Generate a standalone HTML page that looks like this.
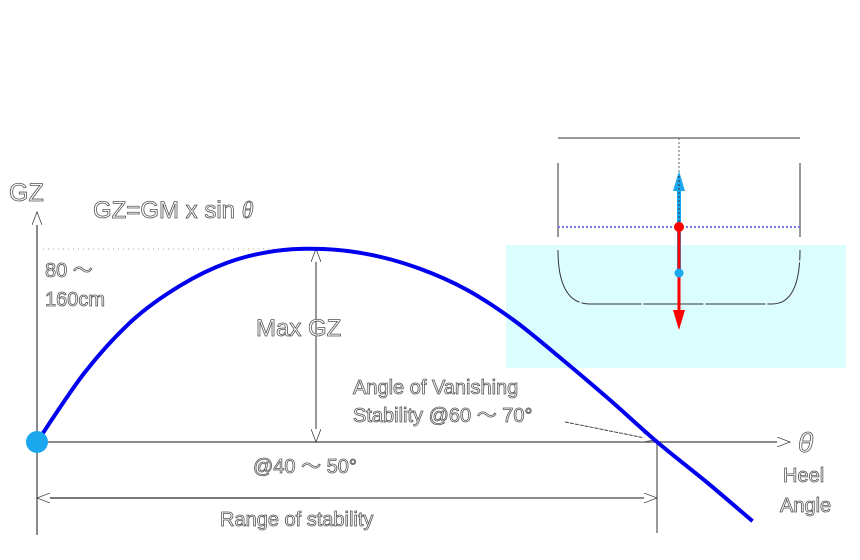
<!DOCTYPE html>
<html><head><meta charset="utf-8"><style>
body{margin:0;background:#fff}
svg{display:block}
.t{font-family:"Liberation Sans",sans-serif;fill:#fff;stroke:#555;stroke-width:0.8}
</style></head><body>
<svg id="chart" width="860" height="560" viewBox="0 0 860 560" xmlns="http://www.w3.org/2000/svg">
<defs>
<marker id="ah" markerWidth="14" markerHeight="10" refX="13" refY="5" orient="auto" markerUnits="userSpaceOnUse"><path d="M0,0 L13,5 L0,10" fill="#fff" stroke="#444" stroke-width="0.8"/></marker>
</defs>
<rect x="506" y="245" width="340" height="123" fill="#dbfdfd"/>
<g stroke="#333" stroke-width="1" fill="none">
<line x1="558" y1="138" x2="800" y2="138"/>
<line x1="558" y1="163" x2="558" y2="237"/>
<line x1="800" y1="163" x2="800" y2="237"/>
<path d="M558,250 Q558,304 590,304 L772,304 Q800,304 800,250" stroke-dasharray="60 2"/>
<line x1="679" y1="138" x2="679" y2="175" stroke="#666" stroke-dasharray="2 2"/>
</g>
<line x1="558" y1="227" x2="800" y2="227" stroke="#7777ee" stroke-width="2" stroke-dasharray="2 2"/>
<line x1="679" y1="273" x2="679" y2="186" stroke="#1aa7ee" stroke-width="4"/>
<polygon points="679,171 673,191 685,191" fill="#1aa7ee"/>
<line x1="679" y1="176" x2="679" y2="225" stroke="#333" stroke-dasharray="2 2"/>
<line x1="679" y1="227" x2="679" y2="315" stroke="#f00" stroke-width="3"/>
<polygon points="679,330 673,310 685,310" fill="#f00"/>
<circle cx="679" cy="227" r="5" fill="#f00"/>
<circle cx="679" cy="273" r="4.5" fill="#1aa7ee"/>

<line x1="37" y1="535" x2="37" y2="212" stroke="#666" stroke-width="1.5" marker-end="url(#ah)"/>
<line x1="37" y1="442" x2="790" y2="442" stroke="#666" stroke-width="1.5" marker-end="url(#ah)"/>
<line x1="43" y1="249" x2="316" y2="249" stroke="#aaa" stroke-dasharray="1 4"/>
<line x1="316" y1="345" x2="316" y2="249" stroke="#777" stroke-width="1.5" marker-end="url(#ah)"/>
<line x1="316" y1="345" x2="316" y2="442" stroke="#777" stroke-width="1.5" marker-end="url(#ah)"/>
<line x1="657" y1="442" x2="657" y2="533" stroke="#333"/>
<line x1="37" y1="498" x2="657" y2="498" stroke="#666" stroke-width="1.5" marker-end="url(#ah)"/>
<line x1="320" y1="498" x2="37" y2="498" stroke="#666" stroke-width="1.5" marker-end="url(#ah)"/>
<line x1="565" y1="422" x2="655" y2="440" stroke="#444" stroke-dasharray="4 1" marker-end="url(#ah)"/>
<g id="curve"></g>
<circle cx="37" cy="442" r="11" fill="#1aa7ee"/>

<text class="t" x="9" y="201" font-size="25">GZ</text>
<text class="t" x="93" y="218" font-size="24">GZ=GM x sin <tspan font-family="Liberation Serif" font-style="italic">θ</tspan></text>
<text class="t" x="45" y="277" font-size="20">80 ～</text>
<text class="t" x="45" y="306" font-size="20">160cm</text>
<text class="t" x="256" y="336" font-size="24">Max GZ</text>
<text class="t" x="353" y="394" font-size="20">Angle of Vanishing</text>
<text class="t" x="353" y="422" font-size="20">Stability @60 ～ 70°</text>
<text class="t" x="253" y="473" font-size="20">@40 ～ 50°</text>
<text class="t" x="220" y="526" font-size="20">Range of stability</text>
<text class="t" x="798" y="452" font-size="28" font-family="Liberation Serif" font-style="italic">θ</text>
<text class="t" x="783" y="482" font-size="20">Heel</text>
<text class="t" x="780" y="512" font-size="20">Angle</text>
</svg>
<script>
const angles=[0,5,10,15,20,25,30,35,40,45,50,55,60,65,70,75];
const gzValues=[0,36,63,81,93,99,100,97,90,79,63,43,22,0,-20,-41];
const xS=a=>37+a*9.54;
const yS=v=>442-v*1.93;
const pts=angles.map((a,i)=>[xS(a),yS(gzValues[i])]);
let d='M'+pts[0][0]+','+pts[0][1];
for(let i=0;i<pts.length-1;i++){
 const p0=pts[Math.max(0,i-1)],p1=pts[i],p2=pts[i+1],p3=pts[Math.min(pts.length-1,i+2)];
 const c1=[p1[0]+(p2[0]-p0[0])/6,p1[1]+(p2[1]-p0[1])/6];
 const c2=[p2[0]-(p3[0]-p1[0])/6,p2[1]-(p3[1]-p1[1])/6];
 d+=' C'+c1[0]+','+c1[1]+' '+c2[0]+','+c2[1]+' '+p2[0]+','+p2[1];
}
const g=document.getElementById('curve');
const p=document.createElementNS('http://www.w3.org/2000/svg','path');
p.setAttribute('d',d);
p.setAttribute('fill','none');p.setAttribute('stroke','#0000ee');p.setAttribute('stroke-width','4');


g.appendChild(p);
</script>
</body></html>
